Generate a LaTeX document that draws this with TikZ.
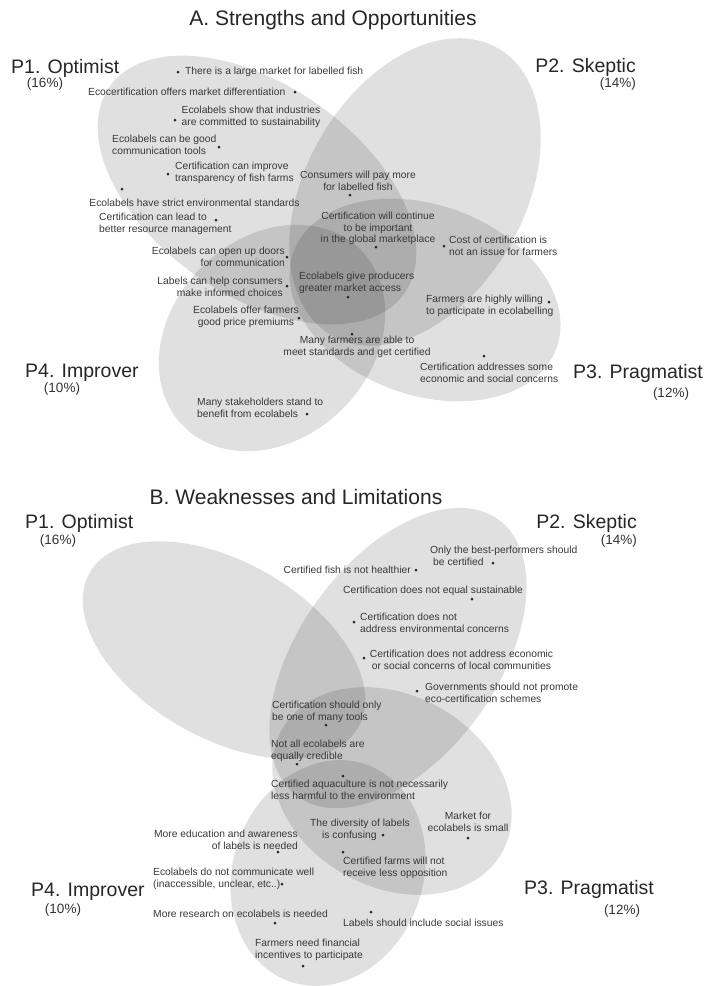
\documentclass[tikz,border=0pt]{standalone}
\usepackage{fontspec}
\setmainfont{Liberation Sans}
\begin{document}
\begin{tikzpicture}[x=1pt,y=-1pt]
\tikzstyle{every node}+=[inner sep=0pt]
\tikzstyle{zone}=[fill=black,fill opacity=0.12]
\tikzstyle{spot}=[circle,fill=black!85,minimum size=3pt]
\tikzstyle{note}=[text=black!78,font=\fontsize{10.3}{11.7}\selectfont]
\tikzstyle{persona}=[text=black!85,font=\fontsize{19.5}{22}\selectfont,anchor=west]
\tikzstyle{share}=[text=black!80,font=\fontsize{13.5}{15}\selectfont]
\tikzstyle{heading}=[text=black!85,font=\fontsize{21}{24}\selectfont]
\useasboundingbox (0,0) rectangle (709,986);
\clip (0,0) rectangle (709,986);
\fill [zone] (257,190) ellipse [x radius=180, y radius=105, rotate=-35];
\fill [zone] (415,192) ellipse [x radius=166, y radius=109, rotate=60];
\fill [zone] (425,300) ellipse [x radius=140, y radius=95, rotate=-20];
\fill [zone] (272,338) ellipse [x radius=125, y radius=100, rotate=45];
\fill [zone] (224,650) ellipse [x radius=155, y radius=88, rotate=-30];
\fill [zone] (398,658) ellipse [x radius=171, y radius=99, rotate=54];
\fill [zone] (392,791) ellipse [x radius=126, y radius=96, rotate=-29];
\fill [zone] (328,873) ellipse [x radius=115, y radius=95, rotate=70];
\node [heading] (titleA) at (333,20) {A. Strengths and Opportunities};
\node [persona] (p1a) at (11,68) {P1. Optimist};
\node [share] (s1a) at (45,84) {(16\%)};
\node [persona,anchor=east] (p2a) at (636,67) {P2. Skeptic};
\node [share,anchor=east] (s2a) at (636,84) {(14\%)};
\node [persona] (p3a) at (573,373) {P3. Pragmatist};
\node [share] (s3a) at (671,394) {(12\%)};
\node [persona] (p4a) at (25,373) {P4. Improver};
\node [share] (s4a) at (62,389) {(10\%)};
\node [spot] (da1) at (178,72) {};
\node [note,anchor=west] (a1) at (185,72) {There is a large market for labelled fish};
\node [note,anchor=west] (a2) at (88,92) {Ecocertification offers market differentiation};
\node [spot] (da2) at (295,92) {};
\node [spot] (da3) at (175,120) {};
\node [note,align=center] (a3) at (251,116.5) {Ecolabels show that industries\\are committed to sustainability};
\node [note,anchor=west,align=left] (a4) at (112,145) {Ecolabels can be good\\communication tools};
\node [spot] (da4) at (219,147) {};
\node [spot] (da5) at (168,174) {};
\node [note,anchor=west,align=left] (a5) at (175,172.5) {Certification can improve\\transparency of fish farms};
\node [note,align=center] (a6) at (358,180.5) {Consumers will pay more\\for labelled fish};
\node [spot] (da6) at (350,195) {};
\node [spot] (da7) at (122,189) {};
\node [note] (a7) at (194.5,203) {Ecolabels have strict environmental standards};
\node [note,anchor=west,align=left] (a8) at (99,224) {Certification can lead to\\better resource management};
\node [spot] (da8) at (216,220) {};
\node [note,align=center] (a9) at (378,228.5) {Certification will continue\\to be important\\in the global marketplace};
\node [spot] (da9) at (376,247) {};
\node [spot] (da10) at (444,246) {};
\node [note,anchor=west,align=left] (a10) at (449,246) {Cost of certification is\\not an issue for farmers};
\node [note,anchor=east,align=right] (a11) at (285,256.5) {Ecolabels can open up doors\\for communication};
\node [spot] (da11) at (287,257) {};
\node [note,anchor=east,align=right] (a12) at (283,287) {Labels can help consumers\\make informed choices};
\node [spot] (da12) at (287,286) {};
\node [note,anchor=west,align=left] (a13) at (299,283) {Ecolabels give producers\\greater market access};
\node [spot] (da13) at (348,297) {};
\node [note,align=center] (a14) at (246,317) {Ecolabels offer farmers\\good price premiums};
\node [spot] (da14) at (299,318) {};
\node [spot] (da15) at (352,334) {};
\node [note,align=center] (a15) at (357,346.5) {Many farmers are able to\\meet standards and get certified};
\node [note,anchor=west,align=left] (a16) at (426,306) {Farmers are highly willing\\to participate in ecolabelling};
\node [spot] (da16) at (549,302) {};
\node [spot] (da17) at (484,356) {};
\node [note,anchor=west,align=left] (a17) at (420,373) {Certification addresses some\\economic and social concerns};
\node [note,anchor=west,align=left] (a18) at (197,407.5) {Many stakeholders stand to\\benefit from ecolabels};
\node [spot] (da18) at (307,414) {};
\node [heading] (titleB) at (296,497) {B. Weaknesses and Limitations};
\node [persona] (p1b) at (25,523) {P1. Optimist};
\node [share] (s1b) at (58,541) {(16\%)};
\node [persona,anchor=east] (p2b) at (637,523) {P2. Skeptic};
\node [share,anchor=east] (s2b) at (637,541) {(14\%)};
\node [persona] (p3b) at (524,889) {P3. Pragmatist};
\node [share] (s3b) at (622,911) {(12\%)};
\node [persona] (p4b) at (31,892) {P4. Improver};
\node [share] (s4b) at (63,910) {(10\%)};
\node [note,anchor=east] (b1) at (411,570) {Certified fish is not healthier};
\node [spot] (db1) at (416,570) {};
\node [note,anchor=west,align=left] (b2) at (430,556) {Only the best-performers should\\\hspace*{3pt}be certified};
\node [spot] (db2) at (493,563) {};
\node [note,anchor=west] (b3) at (343,591) {Certification does not equal sustainable};
\node [spot] (db3) at (472,599) {};
\node [spot] (db4) at (354,622) {};
\node [note,anchor=west,align=left] (b4) at (360,622.5) {Certification does not\\address environmental concerns};
\node [spot] (db5) at (364,658) {};
\node [note,align=center] (b5) at (461.5,659.5) {Certification does not address economic\\or social concerns of local communities};
\node [spot] (db6) at (417,691) {};
\node [note,anchor=west,align=left] (b6) at (425,692.5) {Governments should not promote\\eco-certification schemes};
\node [note,anchor=west,align=left] (b7) at (272,712) {Certification should only\\be one of many tools};
\node [spot] (db7) at (326,725) {};
\node [note,anchor=west,align=left] (b8) at (271,750.5) {Not all ecolabels are\\equally credible};
\node [spot] (db8) at (297,764) {};
\node [spot] (db9) at (343,776) {};
\node [note,anchor=west,align=left] (b9) at (271,790) {Certified aquaculture is not necessarily\\less harmful to the environment};
\node [note,anchor=west,align=left] (b10) at (310,830) {The diversity of labels\\\hspace*{12pt}is confusing};
\node [spot] (db10) at (383,835) {};
\node [note,align=center] (b11) at (468,821.5) {Market for\\ecolabels is small};
\node [spot] (db11) at (468,838) {};
\node [note,anchor=east,align=right] (b12) at (298,839.5) {More education and awareness\\of labels is needed};
\node [spot] (db12) at (278,852) {};
\node [spot] (db13) at (343,852) {};
\node [note,anchor=west,align=left] (b13) at (343,867.5) {Certified farms will not\\receive less opposition};
\node [note,anchor=west,align=left] (b14) at (153,878.5) {Ecolabels do not communicate well\\(inaccessible, unclear, etc..)};
\node [spot] (db14) at (282,884) {};
\node [note,anchor=west] (b15) at (153,914) {More research on ecolabels is needed};
\node [spot] (db15) at (275,923) {};
\node [spot] (db16) at (371,912) {};
\node [note,anchor=west] (b16) at (343,923) {Labels should include social issues};
\node [note,anchor=west,align=left] (b17) at (255,949.5) {Farmers need financial\\incentives to participate};
\node [spot] (db17) at (303,966) {};
\end{tikzpicture}
\end{document}
